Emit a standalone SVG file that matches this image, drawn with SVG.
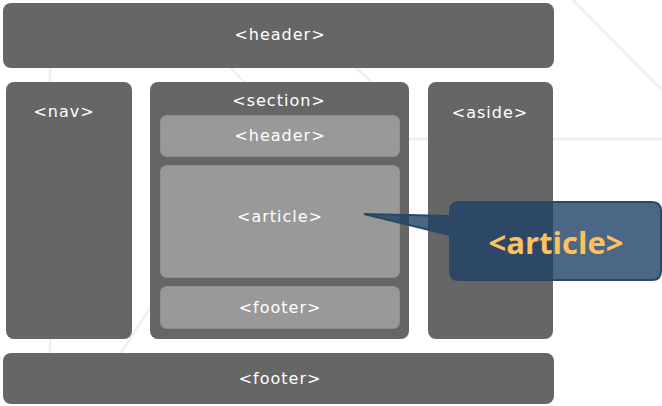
<svg xmlns="http://www.w3.org/2000/svg" width="662" height="406" viewBox="0 0 662 406">
  <defs>
    <style>
      .outer { fill: #666666; }
      .inner { fill: #999999; stroke: #8f8f8f; stroke-width: 1; }
      .lbl { font-family: "DejaVu Sans", Verdana, sans-serif; font-size: 16px; fill: #ffffff; text-anchor: middle; letter-spacing: 1px; }
      .faint { stroke: #eeeff4; stroke-width: 2.5; fill: none; }
      .call { fill: #1f4168; fill-opacity: 0.8; stroke: #2b4766; stroke-width: 2; }
      .calltxt { font-family: "Open Sans", "Liberation Sans", sans-serif; font-weight: bold; font-size: 31px; fill: #ffc15e; text-anchor: middle; }
    </style>
  </defs>
  <rect width="662" height="406" fill="#ffffff"/>
  <g id="background-lines">
    <line class="faint" x1="573" y1="0" x2="662" y2="90"/>
    <line class="faint" x1="400" y1="139" x2="662" y2="139"/>
    <line class="faint" x1="225" y1="62" x2="250" y2="88"/>
    <line class="faint" x1="350" y1="62" x2="378" y2="88"/>
    <line class="faint" x1="50" y1="62" x2="50" y2="88"/>
    <line class="faint" x1="110" y1="370" x2="152" y2="305"/>
    <line class="faint" x1="50" y1="335" x2="50" y2="360"/>
  </g>
  <g id="header">
    <rect class="outer" x="3" y="3" width="551" height="65" rx="8"/>
    <text class="lbl" x="280" y="40">&lt;header&gt;</text>
  </g>
  <g id="nav">
    <rect class="outer" x="6" y="82" width="126" height="257" rx="8"/>
    <text class="lbl" x="64" y="117">&lt;nav&gt;</text>
  </g>
  <g id="section">
    <rect class="outer" x="150" y="82" width="259" height="257" rx="8"/>
    <text class="lbl" x="279" y="106">&lt;section&gt;</text>
  </g>
  <g id="section-header">
    <rect class="inner" x="160.5" y="115.5" width="239" height="41" rx="6"/>
    <text class="lbl" x="280" y="141">&lt;header&gt;</text>
  </g>
  <g id="article">
    <rect class="inner" x="160.5" y="165.5" width="239" height="112" rx="6"/>
    <text class="lbl" x="280" y="222">&lt;article&gt;</text>
  </g>
  <g id="section-footer">
    <rect class="inner" x="160.5" y="286.5" width="239" height="42" rx="6"/>
    <text class="lbl" x="280" y="313">&lt;footer&gt;</text>
  </g>
  <g id="aside">
    <rect class="outer" x="428" y="82" width="125" height="257" rx="8"/>
    <text class="lbl" x="490" y="118">&lt;aside&gt;</text>
  </g>
  <g id="footer">
    <rect class="outer" x="3" y="353" width="551" height="51" rx="8"/>
    <text class="lbl" x="280" y="384">&lt;footer&gt;</text>
  </g>
  <g id="connectors">
    <g id="callout">
      <path class="call" d="M459,202 H652 Q661,202 661,211 V271 Q661,280 652,280 H459 Q450,280 450,271 V235 L364,214 L450,216 V211 Q450,202 459,202 Z"/>
      <text class="calltxt" x="556" y="254">&lt;article&gt;</text>
    </g>
  </g>
</svg>
